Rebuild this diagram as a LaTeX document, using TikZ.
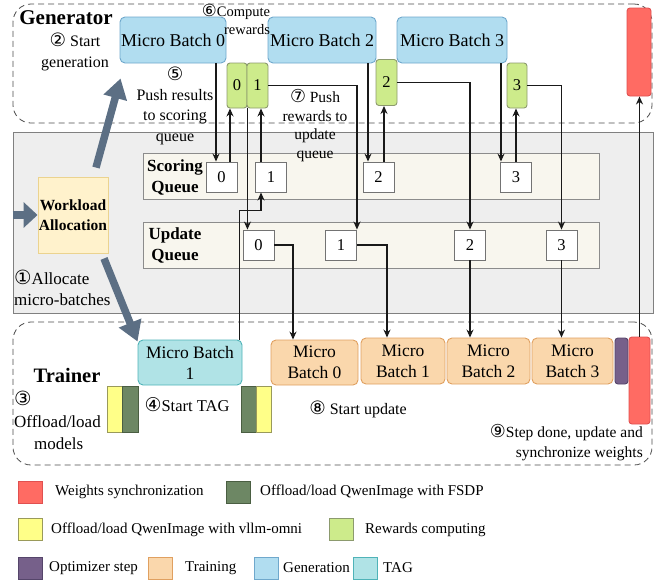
\documentclass[tikz,border=0pt]{standalone}
\usepackage{fontspec}
\usepackage{graphicx}
\setmainfont{Liberation Serif}
\newfontfamily\circd{DejaVu Sans}[Scale=1.15]
\usetikzlibrary{arrows.meta,calc}
\newcommand\cnum[1]{{\circd #1}}
\newcommand\fsz[2]{\fontsize{#1}{#2}\selectfont}

\definecolor{genfill}{HTML}{B1DDF0}
\definecolor{genline}{HTML}{6FA8CC}
\definecolor{rwdfill}{HTML}{CDEB8B}
\definecolor{rwdline}{HTML}{8C9A6E}
\definecolor{tagfill}{HTML}{B0E3E6}
\definecolor{tagline}{HTML}{4FB3B8}
\definecolor{trnfill}{HTML}{FAD7AC}
\definecolor{trnline}{HTML}{E0A060}
\definecolor{syncfill}{HTML}{FF6B63}
\definecolor{syncline}{HTML}{E05050}
\definecolor{optfill}{HTML}{76608A}
\definecolor{optline}{HTML}{55456A}
\definecolor{fsdpfill}{HTML}{6D8764}
\definecolor{fsdpline}{HTML}{4A5E42}
\definecolor{vllmfill}{HTML}{FFFF88}
\definecolor{vllmline}{HTML}{9A9A5A}
\definecolor{wlfill}{HTML}{FFF2CC}
\definecolor{wlline}{HTML}{EBD38F}
\definecolor{panelfill}{HTML}{EEEEEE}
\definecolor{queuefill}{HTML}{F8F6EE}
\definecolor{slate}{HTML}{5C6F84}

\begin{document}
\begin{tikzpicture}[x=1pt,y=-1pt,
  blk/.style={draw, line width=0.9pt, rounded corners=5pt, inner sep=0pt, align=center},
  genbox/.style={blk, fill=genfill, draw=genline, font=\fsz{18}{21}, minimum height=46pt},
  tagbox/.style={blk, fill=tagfill, draw=tagline, font=\fsz{17.5}{21}, minimum height=45pt},
  trnbox/.style={blk, fill=trnfill, draw=trnline, font=\fsz{17.5}{21}, minimum height=46pt},
  rwdbox/.style={blk, fill=rwdfill, draw=rwdline, rounded corners=3pt, font=\fsz{16.5}{18}, minimum height=45pt},
  syncbox/.style={blk, fill=syncfill, draw=syncline, rounded corners=3pt},
  optbox/.style={blk, fill=optfill, draw=optline, rounded corners=3pt},
  fsdpbox/.style={draw=fsdpline, fill=fsdpfill, line width=0.8pt, inner sep=0pt, minimum height=46pt},
  vllmbox/.style={draw=vllmline, fill=vllmfill, line width=0.8pt, inner sep=0pt, minimum height=46pt},
  qpanel/.style={draw=black!45, fill=queuefill, line width=0.9pt, inner sep=0pt, minimum width=456pt, minimum height=46pt},
  qitem/.style={draw=black!55, fill=white, line width=0.9pt, inner sep=0pt, minimum width=31pt, minimum height=30pt, font=\fsz{16.5}{18}},
  frame/.style={draw=black!70, dash pattern=on 6pt off 4pt, line width=0.8pt, rounded corners=18pt, inner sep=0pt},
  note/.style={inner sep=0pt, align=center},
  arr/.style={draw=black!90, line width=1.3pt, -{Stealth[length=8pt,width=7pt]}},
  fat/.style={draw=slate, line width=7.5pt},
  leg/.style={draw, line width=0.8pt, inner sep=0pt, minimum width=24pt, minimum height=22pt},
  legtxt/.style={inner sep=0pt, anchor=west, font=\fsz{15}{18}}
]
\useasboundingbox (0,0) rectangle (660,584);

% ---------- central allocation panel with the two queues ----------
\node[draw=black!50, fill=panelfill, line width=0.9pt, inner sep=0pt,
      minimum width=640pt, minimum height=181pt] (panel) at (333,222.5) {};
\node[qpanel] (sq) at (371,176) {};
\node[qpanel] (uq) at (371,245) {};
\node[note, font=\bfseries\fsz{17}{21}] (sqlbl) at (175,177.5) {Scoring\\Queue};
\node[note, font=\bfseries\fsz{17}{21}] (uqlbl) at (175,245.5) {Update\\Queue};

\node[qitem] (s0) at (221.5,177) {0};
\node[qitem] (s1) at (271,177) {1};
\node[qitem] (s2) at (378.5,177) {2};
\node[qitem] (s3) at (516,177) {3};
\node[qitem] (u0) at (258.5,245) {0};
\node[qitem] (u1) at (341,245) {1};
\node[qitem] (u2) at (470,245) {2};
\node[qitem] (u3) at (561.5,245) {3};

\node[draw=wlline, fill=wlfill, line width=0.9pt, inner sep=0pt, minimum width=70pt,
      minimum height=76pt, align=center, font=\bfseries\fsz{15.5}{20}] (wa) at (73,215) {Workload\\Allocation};
\node[note, align=left, anchor=west, font=\fsz{17}{21}] (step1) at (14,287.5)
  {\cnum{①}Allocate\\micro-batches};

% ---------- generator ----------
\node[frame, minimum width=639pt, minimum height=119pt] (genframe) at (332.5,63.5) {};
\node[inner sep=0pt, font=\bfseries\fsz{21}{24}] (gentitle) at (66,18) {Generator};
\node[note, font=\fsz{16}{21}] (step2) at (75,51.5) {\cnum{②} Start\\generation};

\node[genbox, minimum width=106pt] (gmb0) at (173,40) {Micro Batch 0};
\node[genbox, minimum width=108pt] (gmb2) at (322,40) {Micro Batch 2};
\node[genbox, minimum width=110pt] (gmb3) at (452,40) {Micro Batch 3};
\node[syncbox, minimum width=24pt, minimum height=88pt] (gsync) at (639,52) {};

\node[rwdbox, minimum width=20pt] (r0) at (237,85.5) {0};
\node[rwdbox, minimum width=21pt] (r1) at (257.5,85.5) {1};
\node[rwdbox, minimum width=21pt, minimum height=46pt] (r2) at (386.5,82.5) {2};
\node[rwdbox, minimum width=20pt] (r3) at (517,85.5) {3};

\node[inner sep=0pt, font=\fsz{14.5}{18}] (step6a) at (236,12) {\cnum{⑥}Compute};
\node[inner sep=0pt, font=\fsz{14.5}{18}] (step6b) at (247,30) {rewards};
\node[note, font=\fsz{16}{20.3}] (step5) at (175,105.5) {\cnum{⑤}\\Push results\\to scoring\\queue};
\node[note, font=\fsz{15.5}{18.5}] (step7) at (315,125.5) {\cnum{⑦} Push\\rewards to\\update\\queue};

% ---------- trainer ----------
\node[frame, minimum width=639pt, minimum height=143pt] (trnframe) at (332.5,393.5) {};
\node[inner sep=0pt, font=\bfseries\fsz{20.5}{24}] (trntitle) at (67,375) {Trainer};
\node[note, align=left, anchor=west, font=\fsz{17}{22}] (step3) at (14,420)
  {\cnum{③}\\Offload/load\\\hspace*{20pt}models};

\node[tagbox, minimum width=104pt] (tmb1) at (190,362.5) {Micro Batch\\1};
\node[vllmbox, minimum width=15pt] (yl) at (114.5,409) {};
\node[fsdpbox, minimum width=16pt] (gl) at (130,409) {};
\node[fsdpbox, minimum width=15pt] (gr) at (248.5,409) {};
\node[vllmbox, minimum width=15pt] (yr) at (263.5,409) {};
\node[inner sep=0pt, font=\fsz{16.5}{20}] (step4) at (187,405) {\cnum{④}Start TAG};

\node[trnbox, minimum width=87pt, minimum height=45pt] (o0) at (314.5,362.5) {Micro\\Batch 0};
\node[trnbox, minimum width=84pt] (o1) at (403,361) {Micro\\Batch 1};
\node[trnbox, minimum width=83pt] (o2) at (488.5,361) {Micro\\Batch 2};
\node[trnbox, minimum width=81pt] (o3) at (572.5,361) {Micro\\Batch 3};
\node[optbox, minimum width=13pt, minimum height=46pt] (opt) at (621.5,361) {};
\node[syncbox, minimum width=21pt, minimum height=87pt] (tsync) at (639.5,380.5) {};

\node[inner sep=0pt, font=\fsz{16}{20}] (step8) at (358,409) {\cnum{⑧} Start update};
\node[note, align=right, anchor=east, font=\fsz{15.5}{20}] (step9) at (643,443)
  {\cnum{⑨}Step done, update and\\synchronize weights};

% ---------- allocation arrows ----------
\draw[fat, -{Triangle[length=14pt,width=25pt]}] (panel.west |- wa.west) -- (wa.west);
\draw[fat, -{Triangle[length=20pt,width=23pt]}] ([xshift=23pt,yshift=9pt]wa.north) -- ([xshift=1pt,yshift=-15pt]gmb0.south west);
\draw[fat, -{Triangle[length=20pt,width=23pt]}] ([xshift=31pt,yshift=-5pt]wa.south) -- ([yshift=-2pt]tmb1.north west);

% ---------- data flow ----------
\coordinate (gap) at ($(sq.south)!.5!(uq.north)$);
% micro batch 0
\draw[arr] ([xshift=-5.5pt]s0.north |- gmb0.south) -- ([xshift=-5.5pt]s0.north);
\draw[arr] ([xshift=8.5pt]s0.north) -- ([xshift=8.5pt]s0.north |- r0.south);
\draw[arr] (r0.south east) -- (r0.south east |- u0.north);
\draw[arr] (u0.east) -| ([xshift=-21.5pt]o0.north);
% micro batch 1
\draw[arr] ([xshift=-3pt]tmb1.north east) -- ([xshift=-3pt]tmb1.north east |- gap) -| ([xshift=-10pt]s1.south);
\draw[arr] ([xshift=-10pt]s1.north) -- ([xshift=-10pt]s1.north |- r1.south);
\draw[arr] (r1.east) -| (u1.north east);
\draw[arr] (u1.east) -| ([xshift=-16pt]o1.north);
% micro batch 2
\draw[arr] ([xshift=-10.5pt]s2.north |- gmb2.south) -- ([xshift=-10.5pt]s2.north);
\draw[arr] ([xshift=5.5pt]s2.north) -- ([xshift=5.5pt]s2.north |- r2.south);
\draw[arr] (r2.east) -| (u2.north);
\draw[arr] (u2.south) -- (u2.south |- o2.north);
% micro batch 3
\draw[arr] ([xshift=-15pt]s3.north |- gmb3.south) -- ([xshift=-15pt]s3.north);
\draw[arr] (s3.north) -- (s3.north |- r3.south);
\draw[arr] (r3.east) -| (u3.north);
\draw[arr] (u3.south) -- (u3.south |- o3.north);
% weight synchronization
\draw[arr] (tsync.north) -- (tsync.north |- gsync.south);

% ---------- legend ----------
\node[leg, fill=syncfill, draw=syncline] (k1) at (30,492) {};
\node[legtxt] (k1t) at (55,492) {Weights synchronization};
\node[leg, fill=fsdpfill, draw=fsdpline] (k2) at (238,492) {};
\node[legtxt] (k2t) at (260,492) {Offload/load QwenImage with FSDP};
\node[leg, fill=vllmfill, draw=vllmline] (k3) at (30,529.5) {};
\node[legtxt] (k3t) at (51,529.5) {Offload/load QwenImage with vllm-omni};
\node[leg, fill=rwdfill, draw=rwdline] (k4) at (341.5,529.5) {};
\node[legtxt] (k4t) at (365,529.5) {Rewards computing};
\node[leg, fill=optfill, draw=optline] (k5) at (30,568) {};
\node[legtxt] (k5t) at (49,568) {Optimizer step};
\node[leg, fill=trnfill, draw=trnline] (k6) at (160.5,568) {};
\node[legtxt] (k6t) at (185,568) {Training};
\node[leg, fill=genfill, draw=genline] (k7) at (266.5,568) {};
\node[legtxt] (k7t) at (283,568) {Generation};
\node[leg, fill=tagfill, draw=tagline] (k8) at (365.5,568) {};
\node[legtxt] (k8t) at (383,568) {TAG};
\end{tikzpicture}
\end{document}
